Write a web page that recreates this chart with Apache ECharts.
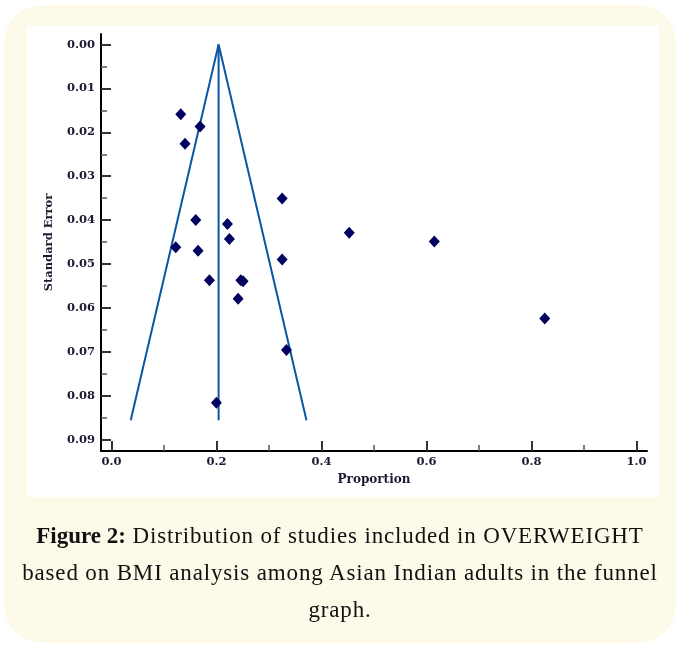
<!DOCTYPE html>
<html>
<head>
<meta charset="utf-8">
<script src="https://cdn.jsdelivr.net/npm/echarts@6/dist/echarts.min.js"></script>
<style>
  html, body { margin: 0; padding: 0; background: #ffffff; }
  #page { position: relative; width: 680px; height: 647px; overflow: hidden; }
  #panel { position: absolute; left: 4px; top: 5px; width: 672px; height: 638px; background: #fefae9; border-radius: 38px; }
  #box { position: absolute; left: 27px; top: 26px; width: 632px; height: 471px; background: #ffffff; }
  #chart { position: absolute; left: 0; top: 0; width: 680px; height: 647px; }
  #caption { position: absolute; left: 4px; top: 517px; width: 672px; text-align: center;
             font-family: "Liberation Serif", serif; font-size: 23px; line-height: 37px;
             letter-spacing: 0.85px; color: #111111; }
  #caption b { font-weight: bold; letter-spacing: 0px; }
</style>
</head>
<body>
<div id="page">
  <div id="panel"></div>
  <div id="box"></div>
  <div id="chart"></div>
  <div id="caption"><b>Figure 2:</b> Distribution of studies included in OVERWEIGHT<br>based on BMI analysis among Asian Indian adults in the funnel<br>graph.</div>
</div>
<script>
// Study points (proportion, standard error)
const studyProportion = [0.1319, 0.1687, 0.1401, 0.3251, 0.1605, 0.2208, 0.4528, 0.2246, 0.1224, 0.1649,
                         0.6149, 0.3251, 0.1865, 0.2463, 0.2507, 0.2412, 0.8252, 0.3333, 0.1998];
const studySE         = [0.0159, 0.0187, 0.0226, 0.0351, 0.0400, 0.0409, 0.0429, 0.0443, 0.0462, 0.0470,
                         0.0449, 0.0490, 0.0537, 0.0537, 0.0539, 0.0579, 0.0624, 0.0696, 0.0816];
// Funnel (pseudo 95% limits) and pooled estimate
const funnelX = [0.0366, 0.2040, 0.3714];
const funnelY = [0.0856, 0.0000, 0.0856];
const pooledX = [0.2040, 0.2040];
const pooledY = [0.0000, 0.0856];
// Axis ticks
const xMajorTicks = [0.0, 0.2, 0.4, 0.6, 0.8, 1.0];
const xMinorTicks = [0.1, 0.3, 0.5, 0.7, 0.9];
const yMajorTicks = [0.00, 0.01, 0.02, 0.03, 0.04, 0.05, 0.06, 0.07, 0.08, 0.09];
const yMinorTicks = [0.005, 0.015, 0.025, 0.035, 0.045, 0.055, 0.065, 0.075, 0.085];
const xRange = [-0.02, 1.02];
const yRange = [-0.0024, 0.0926];

const chart = echarts.init(document.getElementById('chart'), null, { renderer: 'canvas' });
const labelFont = { fontFamily: 'DejaVu Serif', fontWeight: 'bold', fontSize: 11.5, color: '#1a1a33' };

const option = {
  animation: false,
  grid: { left: 101, top: 34, right: 33, bottom: 196, containLabel: false },
  xAxis: [
    {
      type: 'value', min: xRange[0], max: xRange[1], position: 'bottom',
      splitLine: { show: false },
      axisLine: { show: true, onZero: false, lineStyle: { color: '#000000', width: 2 } },
      axisTick: { show: true, inside: true, length: 10, customValues: xMajorTicks, lineStyle: { color: '#333333', width: 2 } },
      axisLabel: Object.assign({ show: true, margin: 5, customValues: xMajorTicks, formatter: v => v.toFixed(1) }, labelFont),
      name: 'Proportion', nameLocation: 'middle', nameGap: 23,
      nameTextStyle: { fontFamily: 'DejaVu Serif', fontWeight: 'bold', fontSize: 12, color: '#1a1a33' }
    },
    {
      type: 'value', min: xRange[0], max: xRange[1], position: 'bottom',
      splitLine: { show: false },
      axisLine: { show: false, onZero: false },
      axisTick: { show: true, inside: true, length: 6, customValues: xMinorTicks, lineStyle: { color: '#555555', width: 1.5 } },
      axisLabel: { show: false }
    }
  ],
  yAxis: [
    {
      type: 'value', min: yRange[0], max: yRange[1], inverse: true, position: 'left',
      splitLine: { show: false },
      axisLine: { show: true, onZero: false, lineStyle: { color: '#000000', width: 2 } },
      axisTick: { show: true, inside: true, length: 10, customValues: yMajorTicks, lineStyle: { color: '#333333', width: 2 } },
      axisLabel: Object.assign({ show: true, margin: 6, customValues: yMajorTicks, formatter: v => v.toFixed(2) }, labelFont),
      name: 'Standard Error', nameLocation: 'middle', nameGap: 46,
      nameTextStyle: { fontFamily: 'DejaVu Serif', fontWeight: 'bold', fontSize: 11.5, color: '#1a1a33' }
    },
    {
      type: 'value', min: yRange[0], max: yRange[1], inverse: true, position: 'left',
      splitLine: { show: false },
      axisLine: { show: false, onZero: false },
      axisTick: { show: true, inside: true, length: 6, customValues: yMinorTicks, lineStyle: { color: '#555555', width: 1.5 } },
      axisLabel: { show: false }
    }
  ],
  series: [
    {
      type: 'line', xAxisIndex: 0, yAxisIndex: 0,
      data: funnelX.map((x, i) => [x, funnelY[i]]),
      symbol: 'none', lineStyle: { color: '#0a56a0', width: 2 }, z: 2
    },
    {
      type: 'line', xAxisIndex: 0, yAxisIndex: 0,
      data: pooledX.map((x, i) => [x, pooledY[i]]),
      symbol: 'none', lineStyle: { color: '#0a56a0', width: 2 }, z: 2
    },
    {
      type: 'scatter', xAxisIndex: 0, yAxisIndex: 0,
      data: studyProportion.map((x, i) => [x, studySE[i]]),
      symbol: 'diamond', symbolSize: [11, 12],
      itemStyle: { color: '#00005e', opacity: 1 }, z: 3
    }
  ]
};
chart.setOption(option);
</script>
</body>
</html>
